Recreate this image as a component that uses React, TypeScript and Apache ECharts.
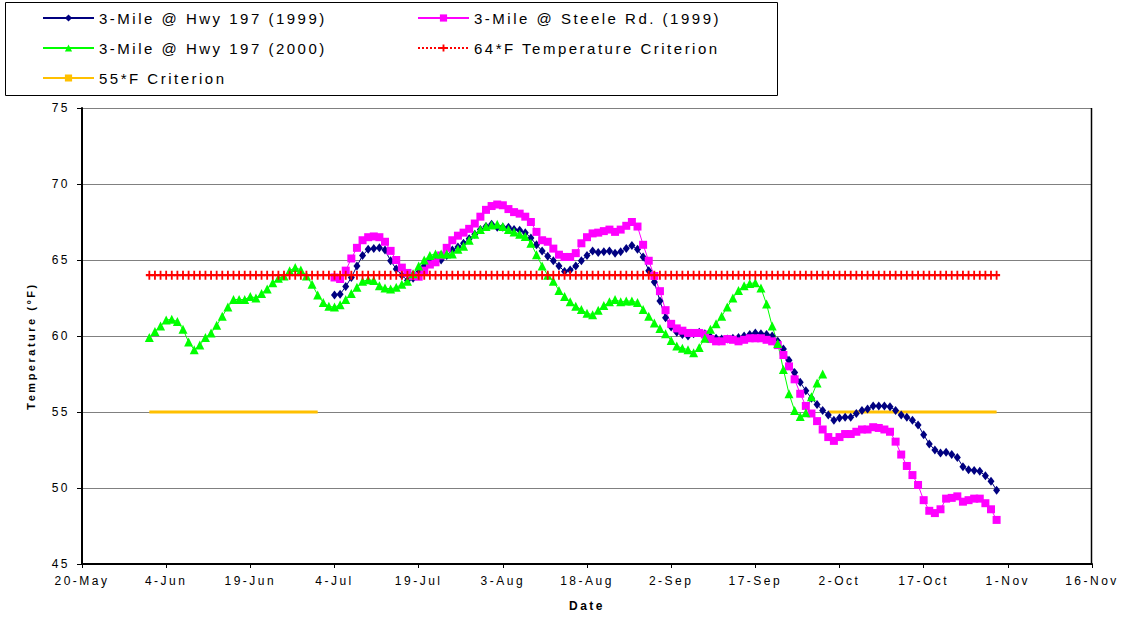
import React, { useEffect, useRef } from "react";
import * as echarts from "echarts";

// X axis: days counted from 20-May; ticks every 15 days
const xTickLabels = ["20-May", "4-Jun", "19-Jun", "4-Jul", "19-Jul", "3-Aug", "18-Aug", "2-Sep", "17-Sep", "2-Oct", "17-Oct", "1-Nov", "16-Nov"];

// 3-Mile @ Hwy 197 (1999): daily values starting day 45 (4-Jul)
const hwy197_1999_startDay = 45;
const hwy197_1999 = [
  62.7, 62.75, 63.25, 63.85, 64.6, 65.3, 65.7, 65.75, 65.8, 65.65,
  64.95, 64.4, 64.0, 63.65, 63.8, 64.2, 64.6, 64.9, 64.9, 65.0,
  65.3, 65.65, 65.85, 66.1, 66.4, 66.7, 67.0, 67.2, 67.35, 67.15,
  67.15, 67.15, 67.0, 66.95, 66.8, 66.45, 66.0, 65.6, 65.25, 64.95,
  64.6, 64.25, 64.35, 64.6, 64.95, 65.3, 65.6, 65.5, 65.55, 65.6,
  65.45, 65.55, 65.75, 65.95, 65.7, 65.2, 64.3, 63.55, 62.3, 61.2,
  60.6, 60.25, 60.1, 60.0, 60.15, 60.25, 60.15, 59.95, 59.85, 59.8,
  59.8, 59.85, 59.9, 60.0, 60.1, 60.2, 60.15, 60.1, 60.0, 59.65,
  59.15, 58.4, 57.6, 56.95, 56.4, 55.9, 55.5, 55.1, 54.8, 54.45,
  54.6, 54.65, 54.65, 54.9, 55.1, 55.2, 55.4, 55.4, 55.4, 55.35,
  55.1, 54.8, 54.65, 54.45, 54.15, 53.5, 52.9, 52.5, 52.3, 52.35,
  52.2, 52.0, 51.4, 51.2, 51.15, 51.1, 50.8, 50.45, 49.85,
];

// 3-Mile @ Steele Rd. (1999): daily values starting day 45
const steele_1999_startDay = 45;
const steele_1999 = [
  63.85, 63.75, 64.3, 65.1, 65.8, 66.3, 66.5, 66.55, 66.5, 66.2,
  65.6, 65.0, 64.5, 64.15, 63.95, 63.9, 64.3, 64.7, 64.85, 65.3,
  65.8, 66.3, 66.6, 66.8, 67.05, 67.4, 67.85, 68.3, 68.55, 68.65,
  68.6, 68.35, 68.15, 68.05, 67.85, 67.5, 66.85, 66.3, 66.2, 65.75,
  65.35, 65.2, 65.2, 65.45, 66.1, 66.5, 66.75, 66.8, 66.9, 67.0,
  66.85, 67.0, 67.25, 67.5, 67.2, 66.0, 64.95, 63.95, 62.95, 61.7,
  60.8, 60.5, 60.35, 60.2, 60.2, 60.2, 60.1, 59.8, 59.65, 59.65,
  59.8, 59.75, 59.65, 59.75, 59.85, 59.85, 59.85, 59.75, 59.65, 59.4,
  58.75, 58.0, 57.15, 56.2, 55.4, 54.9, 54.4, 53.85, 53.35, 53.1,
  53.35, 53.55, 53.55, 53.7, 53.85, 53.85, 54.0, 53.95, 53.85, 53.7,
  53.05, 52.2, 51.45, 50.85, 50.2, 49.2, 48.5, 48.35, 48.6, 49.3,
  49.35, 49.45, 49.1, 49.2, 49.3, 49.3, 49.0, 48.6, 47.9,
];

// 3-Mile @ Hwy 197 (2000): daily values starting day 12 (1-Jun)
const hwy197_2000_startDay = 12;
const hwy197_2000 = [
  59.9, 60.3, 60.65, 61.05, 61.1, 60.95, 60.45, 59.6, 59.1, 59.4,
  59.9, 60.2, 60.7, 61.3, 61.9, 62.4, 62.4, 62.4, 62.6, 62.5,
  62.8, 63.1, 63.5, 63.8, 63.95, 64.3, 64.5, 64.35, 63.95, 63.4,
  62.7, 62.2, 61.95, 61.9, 62.05, 62.4, 62.8, 63.2, 63.6, 63.7,
  63.65, 63.3, 63.15, 63.1, 63.2, 63.4, 63.6, 64.1, 64.6, 65.0,
  65.3, 65.4, 65.4, 65.4, 65.4, 65.7, 65.9, 66.3, 66.7, 67.0,
  67.2, 67.3, 67.35, 67.2, 67.0, 66.85, 66.7, 66.55, 66.1, 65.35,
  64.6, 64.0, 63.6, 63.0, 62.6, 62.25, 61.95, 61.75, 61.5, 61.4,
  61.7, 62.0, 62.25, 62.4, 62.25, 62.3, 62.3, 62.2, 61.75, 61.3,
  60.85, 60.5, 60.15, 59.7, 59.35, 59.2, 59.1, 58.9, 59.25, 59.85,
  60.45, 60.8, 61.3, 61.9, 62.5, 63.0, 63.3, 63.45, 63.5, 63.15,
  62.1, 60.65, 59.5, 57.8, 56.2, 55.1, 54.7, 54.95, 56.0, 56.9,
  57.5,
];

// Criteria
const criterion64Value = 64;
const criterion64Days = [12, 163];
const criterion55Value = 55;
const criterion55Segments = [[12, 42], [133, 163]];

const FONT = "'Liberation Sans', Arial, sans-serif";

function toPoints(start: number, vals: number[]) {
  return vals.map((v, i) => [start + i, v]);
}

const PLUS = "path://M0,3.7H10V6.3H0Z M3.7,0H6.3V10H3.7Z";

export default function App() {
  const ref = useRef<HTMLDivElement>(null);

  useEffect(() => {
    if (!ref.current) return;
    const chart = echarts.init(ref.current, undefined, { renderer: "svg" });

    const redData: number[][] = [];
    for (let d = criterion64Days[0]; d <= criterion64Days[1]; d++) redData.push([d, criterion64Value]);

    const orangeData: any[] = [];
    criterion55Segments.forEach((seg, i) => {
      if (i > 0) orangeData.push([(seg[0] + criterion55Segments[i - 1][1]) / 2, "-"]);
      orangeData.push([seg[0], criterion55Value]);
      orangeData.push([seg[1], criterion55Value]);
    });

    const legendText = { fontSize: 15, color: "#000", fontFamily: FONT };
    const mkLegend = (name: string, left: number, top: number) => ({
      data: [name],
      left,
      top,
      padding: 0,
      itemWidth: 51,
      itemHeight: 9,
      textStyle: legendText,
      selectedMode: false,
    });

    chart.setOption({
      animation: false,
      backgroundColor: "#fff",
      textStyle: { fontFamily: FONT },
      grid: { left: 82, top: 108, width: 1010, height: 456, show: false },
      graphic: [
        {
          type: "rect",
          z: 0,
          shape: { x: 5.5, y: 2.5, width: 772, height: 93 },
          style: { fill: "#fff", stroke: "#000", lineWidth: 1 },
        },
        {
          type: "line",
          z: 1,
          shape: { x1: 1091.5, y1: 108, x2: 1091.5, y2: 564 },
          style: { stroke: "#000", lineWidth: 1.5 },
        },
        {
          type: "text",
          x: 31,
          y: 346,
          rotation: Math.PI / 2,
          style: {
            text: "Temperature (°F)",
            font: `bold 11px ${FONT}`,
            fill: "#000",
            textAlign: "center",
            textVerticalAlign: "middle",
          },
        },
      ],
      legend: [
        mkLegend("3-Mile @ Hwy 197 (1999)", 42, 10.5),
        mkLegend("3-Mile @ Steele Rd. (1999)", 417, 10.5),
        mkLegend("3-Mile @ Hwy 197 (2000)", 42, 40.5),
        mkLegend("64*F Temperature Criterion", 417, 40.5),
        mkLegend("55*F Criterion", 42, 70.5),
      ],
      xAxis: {
        type: "value",
        min: 0,
        max: 180,
        interval: 15,
        name: "Date",
        nameLocation: "middle",
        nameGap: 36,
        nameTextStyle: { fontSize: 12, fontWeight: "bold", color: "#000", fontFamily: FONT },
        axisLine: { show: true, onZero: false, lineStyle: { color: "#000", width: 2 } },
        axisTick: { show: true, length: 4, lineStyle: { color: "#000" } },
        splitLine: { show: false },
        axisLabel: {
          margin: 11,
          fontSize: 12,
          color: "#000",
          fontFamily: FONT,
          formatter: (v: number) => xTickLabels[Math.round(v / 15)] ?? "",
        },
      },
      yAxis: {
        type: "value",
        min: 45,
        max: 75,
        interval: 5,
        axisLine: { show: true, lineStyle: { color: "#000", width: 2 } },
        axisTick: { show: true, length: 5, lineStyle: { color: "#000" } },
        splitLine: { show: true, lineStyle: { color: "#808080", width: 1 } },
        axisLabel: { margin: 12, fontSize: 12, color: "#000", fontFamily: FONT },
      },
      series: [
        {
          name: "3-Mile @ Hwy 197 (1999)",
          type: "line",
          data: toPoints(hwy197_1999_startDay, hwy197_1999),
          symbol: "diamond",
          symbolSize: [7, 9],
          itemStyle: { color: "#000080" },
          lineStyle: { color: "#000080", width: 1 },
        },
        {
          name: "3-Mile @ Steele Rd. (1999)",
          type: "line",
          data: toPoints(steele_1999_startDay, steele_1999),
          symbol: "rect",
          symbolSize: 8,
          itemStyle: { color: "#FF00FF" },
          lineStyle: { color: "#FF00FF", width: 1 },
        },
        {
          name: "3-Mile @ Hwy 197 (2000)",
          type: "line",
          data: toPoints(hwy197_2000_startDay, hwy197_2000),
          symbol: "triangle",
          symbolSize: 9,
          itemStyle: { color: "#00FF00" },
          lineStyle: { color: "#00FF00", width: 1 },
        },
        {
          name: "64*F Temperature Criterion",
          type: "line",
          data: redData,
          symbol: PLUS,
          symbolSize: [7, 9],
          itemStyle: { color: "#FF0000" },
          lineStyle: { color: "#FF0000", width: 1.5, type: "dotted" },
        },
        {
          name: "55*F Criterion",
          type: "line",
          data: orangeData,
          connectNulls: false,
          showSymbol: false,
          symbol: "rect",
          symbolSize: [6, 3],
          itemStyle: { color: "#FFC000" },
          lineStyle: { color: "#FFC000", width: 3 },
        },
      ],
    });

    return () => chart.dispose();
  }, []);

  return (
    <div
      ref={ref}
      style={{
        position: "fixed",
        left: 0,
        top: 0,
        width: 1121,
        height: 618,
        letterSpacing: "2.5px",
        background: "#fff",
      }}
    />
  );
}
